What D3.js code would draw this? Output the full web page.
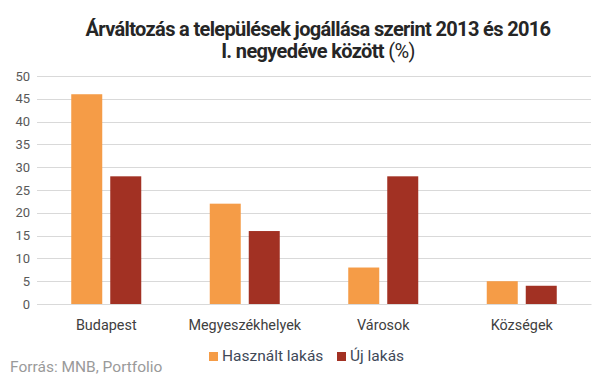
<!DOCTYPE html>
<html><head><meta charset="utf-8">
<script src="https://cdn.jsdelivr.net/npm/d3@7/dist/d3.min.js"></script>
<style>body{margin:0;background:#fff}svg{display:block}</style>
</head><body>
<script>
const categories = ["Budapest", "Megyeszékhelyek", "Városok", "Községek"];
const seriesNames = ["Használt lakás", "Új lakás"];
const usedValues = [46, 22, 8, 5];
const newValues = [28, 16, 28, 4];
const yTicks = [0, 5, 10, 15, 20, 25, 30, 35, 40, 45, 50];
const colors = ["#F59C47", "#A23123"];

const W = 605, H = 378;
const svg = d3.select("body").append("svg").attr("width", W).attr("height", H);
const x = d3.scaleBand().domain(categories).range([37, 591]);
const y = d3.scaleLinear().domain([0, 50]).range([304, 76]);
const barW = 31, gap = 8;

svg.append("g").selectAll("line").data(yTicks).join("line")
  .attr("x1", 37).attr("x2", 591)
  .attr("y1", d => Math.round(y(d)) + 0.5).attr("y2", d => Math.round(y(d)) + 0.5)
  .attr("stroke", "#d9d9d9").attr("stroke-width", 1);

const yAxis = svg.append("g").attr("transform", "translate(37,0)")
  .call(d3.axisLeft(y).tickValues(yTicks).tickSize(0).tickPadding(7));
yAxis.select(".domain").remove();
yAxis.selectAll("text").attr("font-family", "Roboto, sans-serif").attr("font-size", 13).attr("fill", "#595959");

const series = [usedValues, newValues];
series.forEach((vals, si) => {
  svg.append("g").selectAll("rect").data(categories).join("rect")
    .attr("x", c => x(c) + x.bandwidth() / 2 - barW - gap / 2 + si * (barW + gap))
    .attr("width", barW)
    .attr("y", (c, i) => y(vals[i]))
    .attr("height", (c, i) => y(0) - y(vals[i]))
    .attr("fill", colors[si]);
});

const xAxis = svg.append("g").attr("transform", "translate(0,304)")
  .call(d3.axisBottom(x).tickSize(0).tickPadding(16));
xAxis.select(".domain").attr("stroke", "#d9d9d9");
xAxis.selectAll("text").attr("font-family", "Roboto, sans-serif").attr("font-size", 14.4).attr("fill", "#404040");

const t = svg.append("text").attr("text-anchor", "middle").attr("font-family", "Roboto, sans-serif")
  .attr("fill", "#262626").attr("font-size", 20).attr("letter-spacing", -0.65);
t.append("tspan").attr("x", 318).attr("y", 36).attr("font-weight", "bold")
  .text("Árváltozás a települések jogállása szerint 2013 és 2016");
t.append("tspan").attr("x", 318).attr("y", 58).attr("font-weight", "bold").text("I. negyedéve között ");
t.append("tspan").attr("font-weight", "normal").text("(%)");

const lg = svg.append("g").attr("font-family", "Roboto, sans-serif").attr("font-size", 15.5).attr("fill", "#404858");
const legX = [209, 337];
seriesNames.forEach((n, i) => {
  lg.append("rect").attr("x", legX[i]).attr("y", 352).attr("width", 9).attr("height", 9).attr("fill", colors[i]);
  lg.append("text").attr("x", legX[i] + 13).attr("y", 361).text(n);
});

svg.append("text").attr("x", 10).attr("y", 372).attr("font-family", "Roboto, sans-serif")
  .attr("font-size", 15.5).attr("fill", "#9a9a9a").text("Forrás: MNB, Portfolio");
</script>
</body></html>
